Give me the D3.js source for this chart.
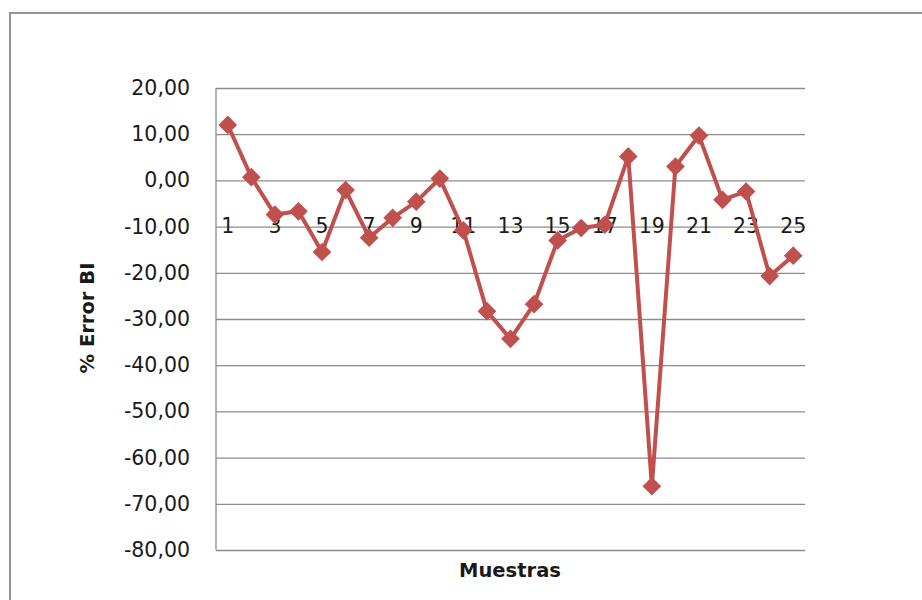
<!DOCTYPE html>
<html>
<head>
<meta charset="utf-8">
<script src="https://cdn.jsdelivr.net/npm/d3@7"></script>
<style>
  body { margin: 0; background: #fff; }
  text { font-family: "DejaVu Sans", sans-serif; fill: #1a1a1a; }
</style>
</head>
<body>
<svg class="line-chart" width="922" height="600"></svg>
<script>
const muestras = d3.range(1, 26);
const errorBI = [12.0, 0.7, -7.4, -6.7, -15.5, -2.1, -12.4, -8.1, -4.6, 0.4,
                 -10.8, -28.3, -34.3, -26.8, -13.0, -10.3, -9.6, 5.2, -66.2, 3.0,
                 9.7, -4.2, -2.4, -20.7, -16.3];
const yTicks = [20, 10, 0, -10, -20, -30, -40, -50, -60, -70, -80];
const xTickLabels = muestras.filter(d => d % 2 === 1);

const svg = d3.select('.line-chart');

// chart frame (only top and left edges show in the picture)
svg.append('path')
    .attr('d', 'M10,700 L10,13 L1000,13')
    .attr('fill', 'none')
    .attr('stroke', '#949494')
    .attr('stroke-width', 2);

const margin = { left: 216, top: 88, right: 117, bottom: 50 };
const width = 922 - margin.left - margin.right;
const height = 600 - margin.top - margin.bottom;

const x = d3.scaleBand()
    .domain(muestras)
    .range([0, width]);

const y = d3.scaleLinear()
    .domain([-80, 20])
    .range([height, 0]);

const g = svg.append('g')
    .attr('transform', `translate(${margin.left} ${margin.top})`);

// gridlines + y labels
const yAxisG = g.append('g')
    .call(d3.axisLeft(y)
        .tickValues(yTicks)
        .tickSize(-width)
        .tickPadding(26)
        .tickFormat(d => d3.format('.2f')(d).replace('.', ',').replace('−', '-')));

yAxisG.select('.domain').remove();
yAxisG.selectAll('line')
    .attr('stroke', '#8c8c8c')
    .attr('stroke-width', 1.3);
yAxisG.selectAll('text')
    .attr('font-size', 20.5)
    .attr('fill', '#1a1a1a');

// vertical axis line
g.append('line')
    .attr('x1', 0).attr('x2', 0)
    .attr('y1', 0).attr('y2', height)
    .attr('stroke', '#8c8c8c')
    .attr('stroke-width', 1.3);

// x labels sit on the -10 line
g.append('g')
    .selectAll('text')
    .data(xTickLabels)
    .enter()
    .append('text')
    .attr('x', d => x(d) + x.bandwidth() / 2)
    .attr('y', y(-10) + 6)
    .attr('text-anchor', 'middle')
    .attr('font-size', 20.5)
    .text(d => d);

const pts = muestras.map((m, i) => ({ m, v: errorBI[i] }));

const line = d3.line()
    .x(d => x(d.m) + x.bandwidth() / 2)
    .y(d => y(d.v));

g.append('path')
    .datum(pts)
    .attr('d', line)
    .attr('fill', 'none')
    .attr('stroke', '#C0504D')
    .attr('stroke-width', 4)
    .attr('stroke-linejoin', 'round');

const diamond = d3.symbol().type(d3.symbolSquare).size(175);

g.selectAll('.marker')
    .data(pts)
    .enter()
    .append('path')
    .attr('class', 'marker')
    .attr('d', diamond)
    .attr('transform', d => `translate(${x(d.m) + x.bandwidth() / 2} ${y(d.v)}) rotate(45)`)
    .attr('fill', '#C0504D');

// axis titles
svg.append('text')
    .attr('transform', 'translate(94 318) rotate(-90)')
    .attr('text-anchor', 'middle')
    .attr('font-size', 19.5)
    .attr('font-weight', 'bold')
    .text('% Error BI');

svg.append('text')
    .attr('x', 510)
    .attr('y', 577)
    .attr('text-anchor', 'middle')
    .attr('font-size', 19.5)
    .attr('font-weight', 'bold')
    .text('Muestras');
</script>
</body>
</html>
